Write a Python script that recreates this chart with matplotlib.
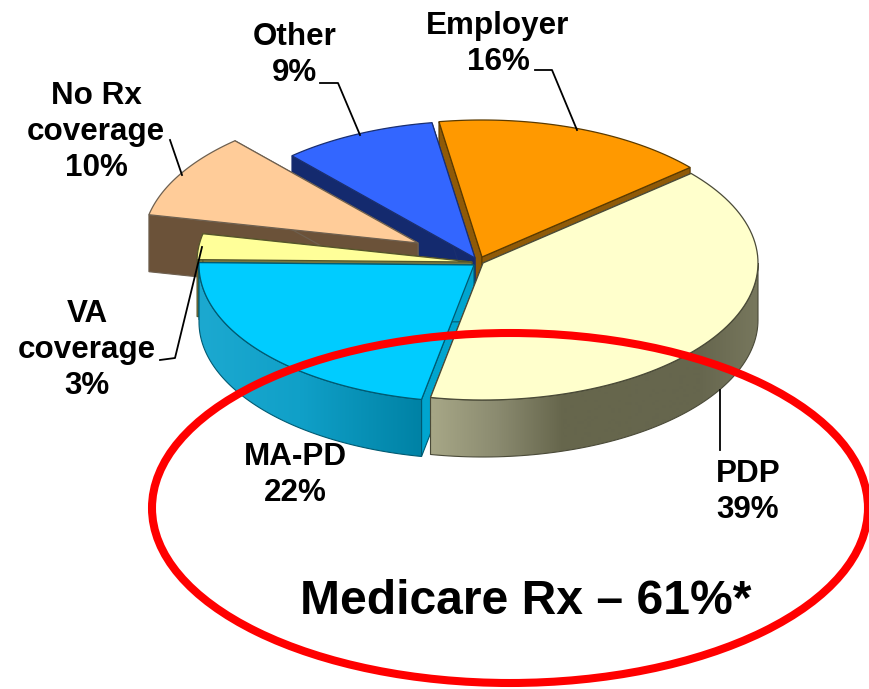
import numpy as np
import matplotlib
matplotlib.use("Agg")
import matplotlib.pyplot as plt
from matplotlib.colors import to_rgb
from matplotlib.patches import Ellipse, PathPatch, Polygon
from matplotlib.path import Path

plt.rcParams["font.family"] = ["Liberation Sans", "DejaVu Sans"]

# ---------------- DATA ----------------
categories = ["Employer", "PDP", "MA-PD", "VA\ncoverage", "No Rx\ncoverage", "Other"]
shares = [16, 39, 22, 3, 10, 9]
highlight = "Medicare Rx \u2013 61%*"

# ---------------- STYLE ----------------
top_colors = ["#FF9900", "#FFFFCC", "#00CCFF", "#FFFF99", "#FFCC99", "#3366FF"]
wall_colors = ["#8F5A08", "#66664E", "#00A5CF", "#77773F", "#6B5239", "#142A6E"]
edge_colors = ["#5A3A00", "#4A4A38", "#005A72", "#55552A", "#6E6050", "#1A2F70"]
centers = [(482, 257), (483, 263), (474, 265), (472, 262), (418, 243), (475, 258)]
RX, RY, DEPTH = 275, 137, 57
START = -9

# gradient stops for the rounded front side, (x pixel, colour)
side_stops = {
    1: [(434, "#A6A686"), (497, "#8B8B70"), (563, "#66664C"), (700, "#66664E"), (757, "#77775D")],
    2: [(200, "#1CA9D0"), (300, "#10A0C8"), (421, "#0082A5")],
}
label_pos = [(498, 44), (748, 492), (295, 475), (87, 350), (96, 132), (295, 55)]
leaders = [
    [(535, 70), (552, 70), (577, 130)],
    [(720, 390), (720, 450)],
    None,
    [(160, 360), (175, 358), (202, 247)],
    [(170, 140), (182, 175)],
    [(320, 83), (338, 83), (360, 135)],
]


def arc(cx, cy, a0, a1, n=80):
    t = np.radians(np.linspace(a0, a1, n))
    return np.column_stack([cx + RX * np.sin(t), cy - RY * np.cos(t)])


fig = plt.figure(figsize=(8.7, 6.89), dpi=100)
ax = fig.add_axes([0, 0, 1, 1])

sweeps = np.array(shares) / sum(shares) * 360
starts = START + np.concatenate([[0], np.cumsum(sweeps)[:-1]])

# back to front, so nearer slices cover the walls behind them
order = [0, 5, 4, 3, 2, 1]
z = 2
for i in order:
    cx, cy = centers[i]
    a0, a1 = starts[i], starts[i] + sweeps[i]
    pts = arc(cx, cy, a0, a1)
    down = np.array([0, DEPTH])

    # straight cut walls
    for end in (pts[0], pts[-1]):
        wall = [(cx, cy), tuple(end), tuple(end + down), (cx, cy + DEPTH)]
        ax.add_patch(Polygon(wall, closed=True, fc=wall_colors[i], ec=edge_colors[i],
                             lw=0.8, zorder=z))
    z += 1

    # rounded side, only where it faces the viewer
    f0, f1 = max(a0, 90), min(a1, 270)
    if f1 > f0:
        front = arc(cx, cy, f0, f1)
        outline = np.vstack([front, (front + down)[::-1]])
        stops = side_stops[i]
        xs = np.linspace(0, 870, 871)
        rgb = np.array([to_rgb(c) for _, c in stops])
        grad = np.column_stack([np.interp(xs, [s[0] for s in stops], rgb[:, k]) for k in range(3)])
        im = ax.imshow(grad[np.newaxis, :, :], extent=(0, 870, 689, 0), aspect="auto", zorder=z)
        clip = PathPatch(Path(outline, closed=False), transform=ax.transData, fc="none", ec="none")
        ax.add_patch(clip)
        im.set_clip_path(clip)
        ax.add_patch(Polygon(outline, closed=True, fc="none", ec=edge_colors[i], lw=0.8, zorder=z + 1))
        z += 2

    top = np.vstack([[cx, cy], pts])
    ax.add_patch(Polygon(top, closed=True, fc=top_colors[i], ec=edge_colors[i], lw=0.9, zorder=z))
    z += 1

# leader lines
for line in leaders:
    if line is not None:
        xs, ys = zip(*line)
        ax.plot(xs, ys, color="black", lw=1.3, zorder=z)
z += 1

# red ring
ax.add_patch(Ellipse((510, 508), 716, 350, fc="none", ec="#FF0000", lw=5.8, zorder=z))
z += 1

# labels
for cat, val, pos in zip(categories, shares, label_pos):
    ax.text(pos[0], pos[1], f"{cat}\n{val}%", ha="center", va="center", fontsize=22.6,
            fontweight="bold", linespacing=1.27, color="black", zorder=z)
ax.text(526, 601, highlight, ha="center", va="center", fontsize=34.6, fontweight="bold",
        color="black", zorder=z)

ax.set_xlim(0, 870)
ax.set_ylim(689, 0)
ax.axis("off")

fig.savefig("out.png", dpi=100)
